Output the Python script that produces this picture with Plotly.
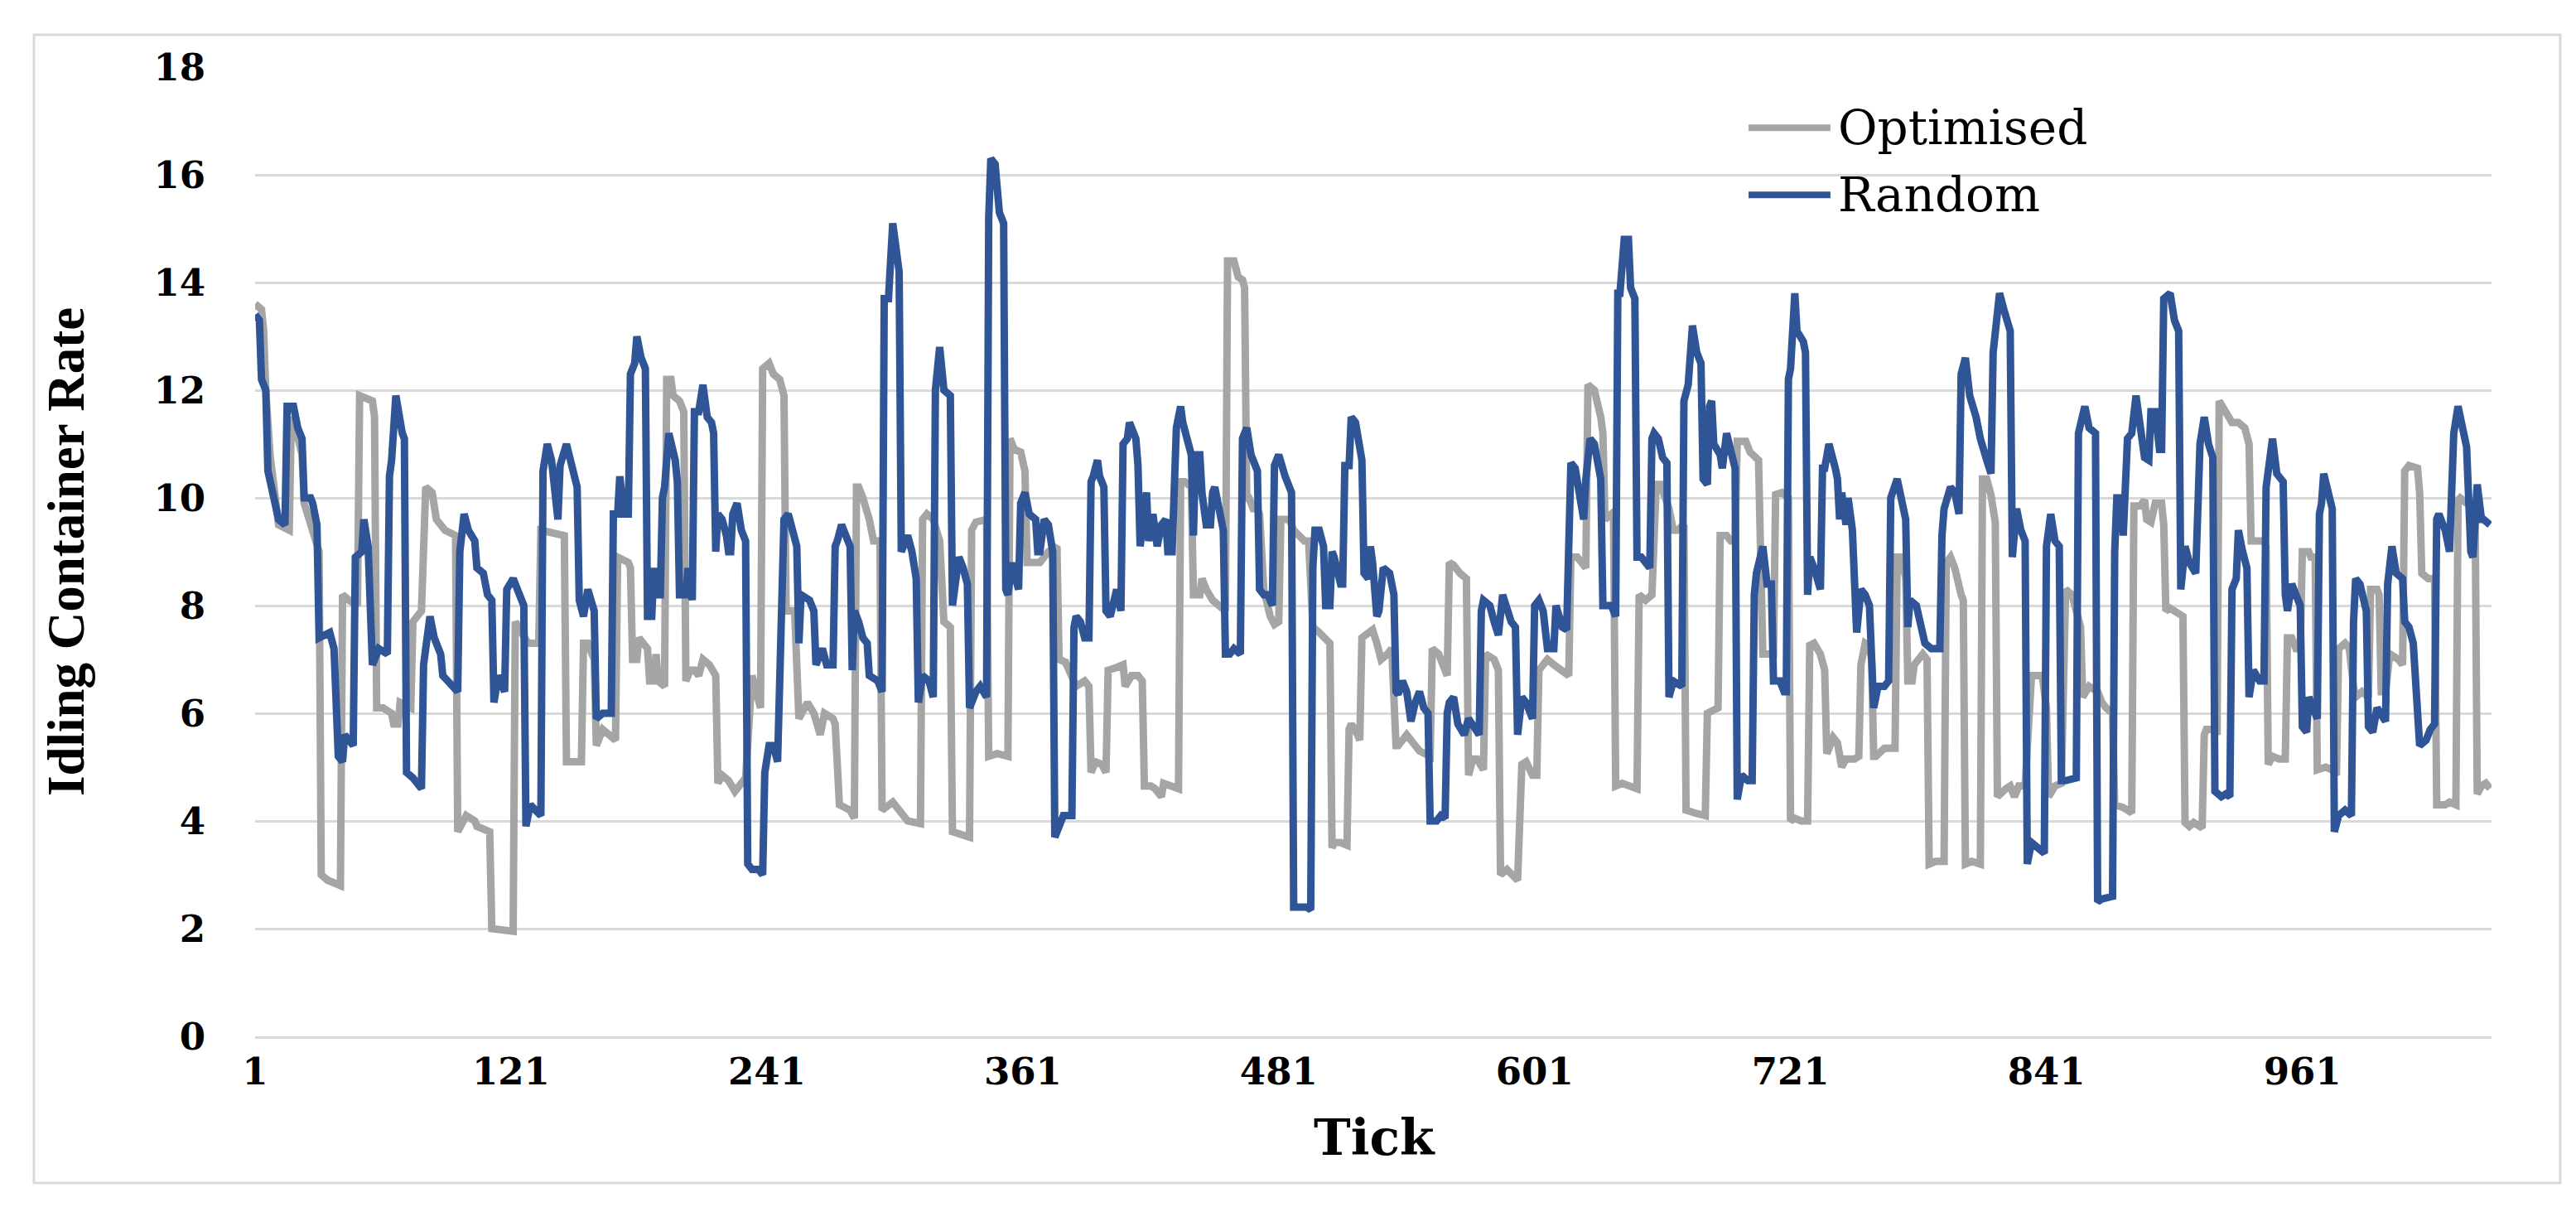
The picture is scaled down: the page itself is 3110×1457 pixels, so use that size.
import plotly.graph_objects as go

# ---------------- data ----------------
rnd_tick = [1, 3, 4, 6, 7, 10, 12, 15, 16, 19, 21, 23, 24, 27, 28, 30, 31, 36, 38, 40, 42, 43, 47, 48, 51, 52, 54, 56, 59, 63,
            64, 65, 67, 70, 71, 72, 75, 79, 80, 83, 85, 88, 89, 96, 97, 99, 101, 104, 105, 108, 110, 112, 113, 115, 118, 119, 122, 125, 127, 128,
            130, 135, 136, 138, 140, 143, 144, 147, 149, 152, 153, 155, 157, 160, 161, 164, 168, 169, 171, 172, 174, 176, 177, 179, 180, 182, 184, 185, 187, 188,
            189, 191, 192, 193, 195, 198, 199, 200, 203, 204, 206, 207, 209, 211, 213, 215, 216, 217, 218, 220, 222, 223, 224, 225, 227, 229, 231, 232, 234, 237,
            239, 240, 242, 244, 246, 248, 249, 251, 253, 255, 256, 257, 261, 263, 264, 267, 269, 272, 273, 274, 276, 278, 280, 281, 282, 284, 286, 288, 289, 293,
            295, 296, 298, 300, 302, 303, 304, 307, 309, 311, 312, 314, 317, 319, 320, 322, 324, 327, 328, 331, 333, 335, 336, 339, 341, 344, 345, 346, 348, 350,
            352, 353, 354, 356, 357, 359, 360, 362, 364, 367, 368, 369, 371, 373, 375, 376, 378, 380, 384, 385, 386, 388, 390, 392, 393, 394, 396, 397, 399, 400,
            402, 405, 407, 408, 410, 411, 414, 415, 416, 418, 419, 420, 422, 424, 426, 428, 429, 431, 432, 433, 435, 436, 438, 440, 441, 442, 444, 445, 447, 449,
            450, 451, 453, 454, 455, 456, 458, 460, 463, 464, 466, 468, 470, 471, 472, 474, 476, 478, 479, 481, 484, 486, 487, 488, 492, 494, 496, 497, 498, 500,
            502, 503, 505, 506, 507, 510, 511, 512, 514, 515, 517, 519, 520, 521, 523, 524, 525, 527, 528, 530, 533, 535, 536, 537, 539, 541, 543, 545, 547, 549,
            551, 552, 555, 557, 559, 560, 561, 563, 565, 568, 570, 575, 576, 577, 580, 582, 584, 586, 588, 590, 592, 593, 595, 597, 600, 601, 603, 605, 607, 610,
            611, 614, 616, 617, 618, 620, 621, 624, 625, 627, 629, 631, 632, 633, 637, 639, 640, 641, 643, 645, 646, 648, 649, 651, 653, 655, 656, 657, 659, 661,
            663, 664, 666, 669, 670, 671, 673, 675, 677, 679, 680, 682, 683, 684, 685, 688, 689, 691, 693, 695, 696, 698, 701, 703, 704, 705, 708, 710, 712, 713,
            716, 718, 719, 720, 721, 723, 724, 727, 728, 729, 730, 732, 735, 736, 737, 739, 742, 743, 744, 745, 747, 748, 750, 752, 754, 756, 758, 760, 762, 765,
            767, 768, 771, 773, 775, 776, 777, 780, 782, 784, 787, 791, 792, 793, 796, 798, 800, 801, 803, 805, 808, 810, 813, 815, 816, 819, 821, 823, 824, 825,
            827, 829, 831, 832, 834, 837, 840, 841, 843, 845, 847, 848, 850, 855, 856, 859, 861, 864, 865, 867, 872, 873, 874, 876, 877, 879, 881, 883, 885, 887,
            889, 890, 892, 894, 895, 896, 899, 901, 903, 904, 906, 908, 911, 912, 913, 915, 917, 919, 920, 923, 925, 927, 928, 930, 931, 933, 935, 936, 938, 941,
            943, 944, 945, 947, 949, 952, 953, 954, 956, 958, 960, 961, 963, 964, 968, 969, 970, 971, 973, 975, 976, 978, 981, 984, 985, 986, 988, 991, 992, 994,
            996, 1000, 1001, 1003, 1005, 1008, 1009, 1011, 1013, 1016, 1019, 1021, 1023, 1024, 1025, 1028, 1030, 1031, 1032, 1034, 1036, 1038, 1040, 1041, 1043, 1045,
            1046, 1049]
rnd_rate = [13.4, 13.3, 12.2, 12.0, 10.5, 10.0, 9.6, 9.5, 11.7, 11.7, 11.3, 11.1, 10.0, 10.0, 9.9, 9.5, 7.4, 7.5, 7.2, 5.2, 5.1, 5.6, 5.4, 8.9, 9.0, 9.6, 9.1, 6.9, 7.2, 7.1,
            10.4, 10.7, 11.9, 11.2, 11.1, 4.9, 4.8, 4.6, 6.9, 7.8, 7.4, 7.1, 6.7, 6.4, 9.0, 9.7, 9.4, 9.2, 8.7, 8.6, 8.2, 8.1, 6.2, 6.7, 6.4, 8.3, 8.5, 8.2, 8.0, 3.9,
            4.3, 4.1, 10.5, 11.0, 10.7, 9.6, 10.6, 11.0, 10.7, 10.2, 8.1, 7.8, 8.3, 7.9, 5.9, 6.0, 6.0, 9.7, 9.7, 10.4, 9.7, 9.7, 12.3, 12.5, 13.0, 12.6, 12.4, 7.8, 7.8, 8.7,
            8.2, 8.2, 10.0, 10.2, 11.2, 10.7, 10.3, 8.2, 8.2, 8.7, 8.1, 11.6, 11.6, 12.1, 11.5, 11.4, 11.2, 9.0, 9.7, 9.6, 9.3, 9.0, 9.0, 9.7, 9.9, 9.4, 9.2, 3.2, 3.1, 3.1,
            3.0, 4.9, 5.4, 5.4, 5.1, 8.7, 9.6, 9.7, 9.4, 9.1, 7.3, 8.2, 8.1, 7.9, 6.9, 7.2, 6.9, 6.9, 9.1, 9.2, 9.5, 9.3, 9.1, 6.8, 7.9, 7.7, 7.4, 7.3, 6.7, 6.6,
            6.4, 13.7, 13.7, 15.1, 14.5, 14.2, 9.0, 9.3, 9.0, 8.5, 6.2, 6.7, 6.6, 6.3, 12.0, 12.8, 12.0, 11.9, 8.0, 8.9, 8.7, 8.4, 6.1, 6.4, 6.5, 6.3, 15.2, 16.3, 16.2, 15.3,
            15.1, 8.3, 8.2, 8.8, 8.6, 8.3, 9.9, 10.1, 9.7, 9.6, 9.0, 9.0, 9.6, 9.5, 9.0, 3.7, 3.9, 4.1, 4.1, 7.6, 7.8, 7.7, 7.4, 7.4, 10.3, 10.4, 10.7, 10.4, 10.2, 7.9,
            7.8, 8.3, 7.9, 11.0, 11.1, 11.4, 11.1, 10.6, 9.1, 10.0, 10.1, 9.2, 9.7, 9.1, 9.5, 9.6, 9.0, 9.0, 10.8, 11.3, 11.7, 11.4, 11.1, 10.8, 9.3, 10.8, 10.8, 10.1, 9.5, 9.5,
            10.1, 10.2, 9.8, 9.6, 9.4, 7.1, 7.1, 7.2, 7.1, 11.1, 11.3, 10.8, 10.6, 10.5, 8.3, 8.2, 8.2, 8.0, 10.6, 10.8, 10.4, 10.2, 10.1, 2.4, 2.4, 2.4, 2.35, 8.7, 9.4, 9.4,
            9.1, 8.0, 8.0, 9.0, 8.9, 8.4, 8.4, 10.6, 10.6, 11.5, 11.4, 11.0, 10.7, 8.6, 8.5, 9.1, 8.8, 7.8, 7.9, 8.7, 8.6, 8.2, 6.4, 6.35, 6.6, 6.4, 5.85, 6.2, 6.4, 6.1,
            6.0, 4.0, 4.0, 4.1, 4.05, 6.0, 6.2, 6.3, 5.8, 5.6, 5.9, 5.6, 7.9, 8.1, 8.0, 7.7, 7.45, 8.2, 7.9, 7.7, 7.6, 5.6, 6.3, 6.2, 5.9, 8.0, 8.1, 7.9, 7.2, 7.2,
            8.0, 7.6, 7.55, 9.8, 10.65, 10.55, 10.3, 9.6, 10.35, 11.1, 11.0, 10.55, 10.35, 8.0, 8.0, 7.8, 13.8, 13.8, 14.8, 14.8, 13.9, 13.7, 8.9, 8.9, 8.8, 8.7, 11.1, 11.2, 11.1, 10.75,
            10.65, 6.3, 6.6, 6.5, 6.5, 11.8, 12.1, 13.2, 12.7, 12.5, 10.35, 10.25, 11.7, 11.8, 11.0, 10.8, 10.55, 11.2, 10.9, 10.55, 4.4, 4.85, 4.75, 4.75, 8.2, 8.6, 9.1, 8.4, 8.4, 6.6,
            6.6, 6.4, 6.4, 12.2, 12.4, 13.8, 13.1, 12.9, 12.7, 8.2, 8.9, 8.7, 8.3, 10.55, 10.55, 11.0, 10.55, 10.35, 9.6, 10.1, 9.5, 10.0, 9.4, 7.5, 8.3, 8.2, 8.0, 6.1, 6.5, 6.5,
            6.6, 10.0, 10.35, 10.0, 9.6, 7.6, 8.1, 8.0, 7.7, 7.3, 7.2, 7.2, 9.3, 9.8, 10.2, 10.1, 9.7, 12.3, 12.6, 11.9, 11.5, 11.1, 10.7, 10.45, 12.7, 13.8, 13.5, 13.2, 13.1, 8.9,
            9.8, 9.4, 9.2, 3.2, 3.6, 3.5, 3.4, 9.1, 9.7, 9.2, 9.1, 4.75, 4.75, 4.8, 11.2, 11.7, 11.3, 11.2, 2.5, 2.55, 2.6, 9.0, 10.0, 10.0, 9.3, 11.1, 11.2, 11.9, 11.3, 10.75,
            10.7, 11.6, 11.6, 10.9, 10.9, 13.7, 13.8, 13.3, 13.1, 8.3, 9.1, 8.8, 8.6, 10.65, 11.0, 11.5, 11.0, 10.75, 4.55, 4.45, 4.5, 4.45, 8.3, 8.5, 9.4, 9.0, 8.7, 6.3, 6.8, 6.6,
            6.6, 10.2, 10.45, 11.1, 10.45, 10.3, 8.2, 7.9, 8.4, 8.2, 8.0, 5.75, 5.65, 6.3, 5.9, 9.7, 9.9, 10.45, 10.1, 9.8, 3.8, 4.1, 4.2, 4.1, 7.7, 8.5, 8.4, 7.9, 5.75, 5.65,
            6.1, 5.85, 8.4, 9.1, 8.6, 8.5, 7.7, 7.6, 7.3, 5.4, 5.5, 5.7, 5.8, 9.6, 9.7, 9.4, 9.0, 10.45, 11.2, 11.7, 11.3, 10.95, 9.0, 8.9, 10.25, 9.6,
            9.6, 9.5]

opt_tick = [1, 4, 5, 6, 8, 10, 12, 17, 18, 20, 23, 24, 27, 29, 31, 32, 35, 41, 42, 45, 49, 50, 56, 57, 58, 61, 65, 66, 68, 69,
            74, 75, 79, 81, 84, 86, 90, 95, 96, 100, 104, 105, 111, 112, 122, 123, 129, 134, 135, 146, 147, 154, 155, 157, 160, 161, 164, 170, 171, 176,
            177, 178, 180, 181, 185, 186, 188, 189, 190, 193, 194, 196, 197, 200, 202, 203, 205, 207, 209, 211, 214, 217, 218, 220, 223, 226, 229, 231, 234, 236,
            238, 239, 242, 244, 247, 249, 250, 254, 256, 260, 263, 266, 268, 272, 273, 275, 277, 280, 282, 283, 284, 286, 289, 291, 294, 295, 300, 303, 307, 313,
            314, 316, 319, 322, 324, 327, 328, 332, 336, 337, 339, 344, 345, 349, 354, 355, 357, 360, 362, 363, 369, 373, 376, 377, 378, 381, 386, 390, 392, 393,
            395, 398, 400, 401, 405, 408, 409, 412, 415, 417, 418, 421, 423, 426, 427, 431, 434, 435, 437, 440, 441, 444, 445, 447, 450, 453, 456, 457, 460, 462,
            464, 465, 466, 467, 469, 471, 472, 474, 475, 477, 479, 481, 482, 486, 488, 491, 493, 495, 497, 500, 502, 505, 506, 507, 510, 513, 514, 515, 518, 519,
            520, 523, 525, 527, 529, 532, 534, 536, 537, 541, 545, 547, 552, 553, 556, 560, 561, 563, 566, 569, 570, 572, 574, 577, 578, 582, 584, 585, 588, 591,
            593, 595, 597, 600, 602, 603, 605, 607, 610, 614, 617, 618, 621, 623, 625, 626, 629, 632, 633, 634, 637, 638, 639, 642, 646, 649, 650, 653, 656, 658,
            660, 664, 666, 668, 671, 672, 676, 679, 681, 682, 684, 687, 688, 691, 693, 695, 696, 700, 702, 705, 706, 708, 710, 713, 714, 717, 720, 721, 723, 726,
            729, 730, 732, 735, 737, 738, 741, 743, 745, 747, 751, 753, 754, 756, 758, 759, 760, 761, 765, 770, 771, 773, 775, 776, 778, 779, 783, 785, 786, 789,
            793, 794, 796, 798, 801, 802, 803, 806, 810, 811, 813, 815, 817, 818, 822, 824, 826, 828, 831, 834, 839, 841, 842, 845, 848, 850, 853, 857, 858, 861,
            865, 867, 869, 872, 873, 877, 881, 882, 885, 887, 888, 890, 892, 895, 896, 897, 899, 903, 905, 906, 908, 910, 914, 915, 916, 920, 921, 922, 925, 928,
            931, 934, 936, 937, 940, 943, 944, 945, 947, 950, 953, 954, 956, 958, 960, 961, 964, 965, 967, 968, 972, 975, 977, 978, 981, 983, 985, 986, 989, 992,
            993, 996, 997, 998, 1000, 1002, 1006, 1008, 1009, 1011, 1015, 1016, 1017, 1020, 1023, 1024, 1028, 1030, 1033, 1034, 1035, 1038, 1041, 1042, 1043, 1045, 1047, 1049]
opt_rate = [13.6, 13.5, 13.1, 12.0, 10.8, 10.0, 9.5, 9.4, 11.5, 11.3, 10.8, 9.9, 9.5, 9.3, 9.0, 3.0, 2.9, 2.8, 8.2, 8.1, 8.0, 11.9, 11.8, 11.5, 6.1, 6.1, 6.0, 5.8, 5.8, 6.2,
            6.1, 7.7, 7.9, 10.2, 10.1, 9.6, 9.4, 9.3, 3.8, 4.1, 4.0, 3.9, 3.8, 2.0, 1.95, 7.7, 7.3, 7.3, 9.4, 9.3, 5.1, 5.1, 7.3, 7.3, 7.0, 5.4, 5.7, 5.5, 8.9, 8.8,
            8.7, 7.0, 7.0, 7.4, 7.2, 6.6, 6.6, 7.1, 6.6, 6.5, 12.2, 12.2, 11.9, 11.8, 11.6, 6.6, 6.8, 6.8, 6.7, 7.0, 6.9, 6.7, 4.7, 4.85, 4.75, 4.55, 4.7, 4.8, 6.7, 6.4,
            6.1, 12.4, 12.5, 12.3, 12.2, 11.9, 7.9, 7.9, 5.9, 6.2, 6.0, 5.6, 6.0, 5.9, 5.8, 4.3, 4.25, 4.2, 4.05, 10.2, 10.2, 10.0, 9.6, 9.2, 9.2, 4.2, 4.35, 4.2, 4.0, 3.95,
            9.6, 9.7, 9.6, 9.2, 7.7, 7.6, 3.8, 3.75, 3.7, 9.4, 9.55, 9.6, 5.2, 5.25, 5.2, 11.1, 10.9, 10.85, 10.5, 8.8, 8.8, 9.0, 9.1, 9.1, 7.0, 6.95, 6.5, 6.6, 6.5, 4.9,
            5.1, 5.05, 4.9, 6.8, 6.85, 6.9, 6.5, 6.7, 6.7, 6.6, 4.65, 4.65, 4.6, 4.45, 4.7, 4.65, 4.6, 10.3, 10.3, 10.2, 8.2, 8.2, 8.5, 8.3, 8.1, 8.0, 7.9, 14.4, 14.4, 14.1,
            14.05, 13.9, 10.0, 10.0, 9.8, 9.8, 9.7, 8.3, 8.1, 7.8, 7.65, 7.7, 9.6, 9.6, 9.4, 9.3, 9.2, 9.2, 7.6, 7.5, 7.4, 7.3, 3.5, 3.6, 3.6, 3.55, 5.7, 5.8, 5.6, 5.5,
            7.4, 7.5, 7.55, 7.3, 7.0, 7.1, 7.2, 5.4, 5.4, 5.6, 5.4, 5.3, 5.2, 7.2, 7.1, 6.7, 8.8, 8.75, 8.6, 8.5, 4.85, 5.15, 5.15, 4.95, 7.1, 7.0, 6.8, 3.0, 3.1, 3.0,
            2.9, 5.05, 5.1, 4.85, 4.85, 6.8, 6.9, 7.0, 6.9, 6.8, 6.7, 8.9, 8.9, 8.8, 8.7, 12.1, 12.0, 11.5, 11.2, 9.6, 9.7, 9.6, 4.65, 4.7, 4.65, 4.6, 8.2, 8.1, 8.2, 10.25,
            10.25, 9.8, 9.4, 9.4, 9.5, 4.2, 4.15, 4.1, 4.1, 6.0, 6.05, 6.1, 9.3, 9.3, 9.2, 9.2, 11.05, 11.05, 10.85, 10.75, 10.7, 7.1, 7.1, 7.1, 10.06, 10.1, 10.0, 4.0, 4.05, 4.0,
            4.0, 7.26, 7.3, 7.1, 6.8, 5.25, 5.55, 5.45, 5.0, 5.15, 5.15, 5.2, 6.9, 7.3, 7.25, 7.0, 5.2, 5.2, 5.35, 5.35, 8.9, 8.9, 8.5, 6.6, 6.6, 6.9, 7.1, 7.0, 3.2, 3.25,
            3.25, 8.8, 8.9, 8.7, 8.2, 8.1, 3.2, 3.25, 3.2, 10.35, 10.35, 10.05, 9.55, 4.45, 4.6, 4.65, 4.45, 4.65, 4.65, 6.7, 6.7, 6.1, 4.45, 4.65, 4.7, 8.3, 8.2, 7.6, 6.3, 6.5,
            6.4, 6.2, 6.1, 6.0, 4.3, 4.25, 4.15, 9.85, 9.85, 9.96, 9.6, 9.55, 9.9, 9.9, 9.5, 7.9, 7.95, 7.85, 7.8, 3.97, 3.9, 3.97, 3.87, 5.6, 5.7, 5.7, 5.6, 11.8, 11.6, 11.4,
            11.4, 11.3, 11.0, 9.2, 9.2, 9.2, 9.1, 5.05, 5.2, 5.15, 5.15, 7.4, 7.4, 7.2, 7.2, 9.0, 9.0, 8.9, 8.9, 4.95, 5.0, 4.95, 4.85, 7.2, 7.3, 7.2, 6.5, 6.3, 6.4, 6.3,
            8.3, 8.3, 8.2, 6.4, 6.4, 7.1, 7.0, 6.9, 10.5, 10.6, 10.55, 10.1, 8.6, 8.5, 8.5, 4.3, 4.3, 4.35, 4.3, 9.96, 10.0, 9.9, 9.86, 9.8, 4.5, 4.65, 4.7, 4.6]

x_tick_vals = [1, 121, 241, 361, 481, 601, 721, 841, 961]
x_tick_text = ["1", "121", "241", "361", "481", "601", "721", "841", "961"]
series_names = ["Optimised", "Random"]
series_colors = ["#A5A5A5", "#2F5597"]

# ---------------- figure ----------------
fig = go.Figure()
fig.add_trace(go.Scatter(x=opt_tick, y=opt_rate, mode="lines", name=series_names[0],
                         line=dict(color=series_colors[0], width=9)))
fig.add_trace(go.Scatter(x=rnd_tick, y=rnd_rate, mode="lines", name=series_names[1],
                         line=dict(color=series_colors[1], width=9)))

tick_font = dict(family="DejaVu Serif", size=45, color="black", weight="bold")

fig.update_layout(
    width=3110, height=1457,
    margin=dict(l=300, r=110, t=73, b=214),
    paper_bgcolor="white", plot_bgcolor="white",
    showlegend=False,
    xaxis=dict(range=[1, 1049.7], tickmode="array", tickvals=x_tick_vals, ticktext=x_tick_text,
               showgrid=False, zeroline=False, showline=True, linecolor="#D9D9D9", linewidth=3,
               ticks="outside", ticklen=1, tickcolor="rgba(0,0,0,0)", tickfont=tick_font),
    yaxis=dict(range=[0, 18], tick0=0, dtick=2, showgrid=True, gridcolor="#D9D9D9", gridwidth=3,
               zeroline=False, showline=False, ticks="outside", ticklen=50,
               tickcolor="rgba(0,0,0,0)", tickfont=tick_font),
)

# chart border
fig.add_shape(type="rect", xref="paper", yref="paper", x0=-0.0989, x1=1.0307, y0=-0.1513, y1=1.0333,
              line=dict(color="#D9D9D9", width=3), layer="below")

# axis titles
fig.add_annotation(text="Idling Container Rate", xref="paper", yref="paper", x=-0.0844, y=0.5,
                   textangle=-90, showarrow=False, xanchor="center", yanchor="middle",
                   font=dict(family="Liberation Serif", size=63, color="black", weight="bold"))
fig.add_annotation(text="Tick", xref="paper", yref="paper", x=0.5007, y=-0.104,
                   showarrow=False, xanchor="center", yanchor="middle",
                   font=dict(family="DejaVu Serif", size=60, color="black", weight="bold"))

# legend (drawn manually to match long line samples)
leg_y = [0.9375, 0.8682]
for name, color, yy in zip(series_names, series_colors, leg_y):
    fig.add_shape(type="line", xref="paper", yref="paper", x0=0.6678, x1=0.7044, y0=yy, y1=yy,
                  line=dict(color=color, width=8))
    fig.add_annotation(text=name, xref="paper", yref="paper", x=0.7070, y=yy, showarrow=False,
                       xanchor="left", yanchor="middle",
                       font=dict(family="DejaVu Serif", size=58, color="black"))

fig.write_html("out.html")
